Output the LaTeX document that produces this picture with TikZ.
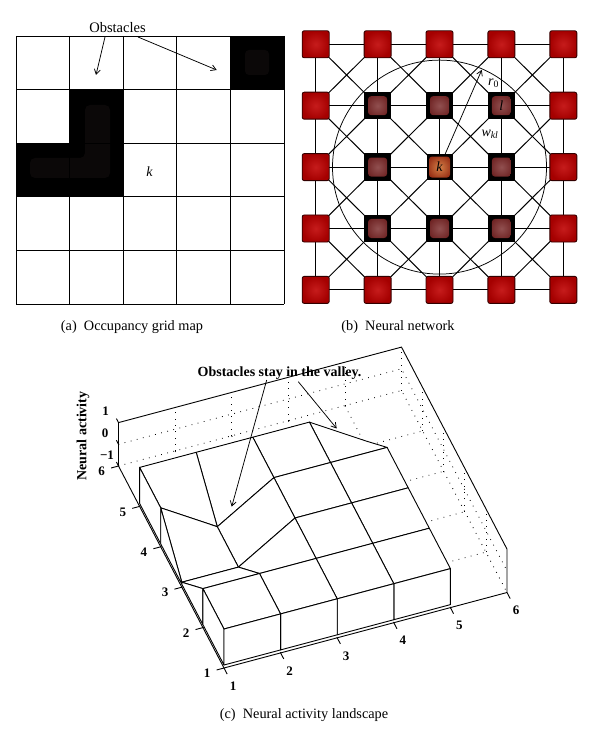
\documentclass[tikz,border=0pt]{standalone}
\usepackage{fontspec}
\setmainfont{Liberation Serif}
\usetikzlibrary{arrows.meta}
\pgfdeclarelayer{bg}
\pgfsetlayers{bg,main}
\begin{document}
\begin{tikzpicture}[x=1pt,y=-1pt,
  declare function={zv(\a,\b)=(((\a==5)&&(\b==5))||((\a==2)&&(\b==4))||((\a==1)&&(\b==3))||((\a==2)&&(\b==3)))?-0.77:0.797;},
  grd/.style={line width=0.9pt},
  obsin/.style={fill={rgb,255:red,11;green,8;blue,8}},
  arr/.style={line width=0.75pt,-{Straight Barb[length=5pt,width=6pt]}},
  capt/.style={font=\fontsize{14.3}{16}\selectfont, anchor=base, inner sep=0pt},
  lbl/.style={font=\fontsize{14.5}{16}\selectfont, inner sep=0pt},
  ital/.style={font=\fontsize{14}{16}\selectfont\itshape, inner sep=0pt},
  bfl/.style={font=\fontsize{14}{16}\selectfont\bfseries, inner sep=0pt},
  tickf/.style={font=\fontsize{13}{13}\selectfont\bfseries, inner sep=0pt},
  onode/.style={rectangle, minimum size=27pt, inner sep=0pt, rounded corners=2pt,
    draw={rgb,255:red,50;green,0;blue,0}, line width=0.9pt,
    inner color={rgb,255:red,198;green,28;blue,28}, outer color={rgb,255:red,165;green,0;blue,0}},
  inode/.style={rectangle, minimum size=27.5pt, inner sep=0pt, fill=black,
    path picture={\shade[inner color={rgb,255:red,145;green,80;blue,80}, outer color={rgb,255:red,105;green,28;blue,28}, rounded corners=3pt]
      ([shift={(-9.5pt,-9.5pt)}]path picture bounding box.center) rectangle ([shift={(9.5pt,9.5pt)}]path picture bounding box.center);}},
  knode/.style={rectangle, minimum size=26pt, inner sep=0pt, fill=black,
    path picture={\shade[inner color={rgb,255:red,212;green,128;blue,72}, outer color={rgb,255:red,150;green,45;blue,20}, rounded corners=3pt]
      ([shift={(-10.5pt,-10.5pt)}]path picture bounding box.center) rectangle ([shift={(10.5pt,10.5pt)}]path picture bounding box.center);}},
  netl/.style={line width=1pt},
  surf/.style={fill=white, draw=black, line width=0.9pt, line join=round},
  axl/.style={line width=0.9pt},
  dotg/.style={line width=0.8pt, dash pattern=on 0.8pt off 5.5pt}
]
\useasboundingbox (0,0) rectangle (595,735);

% ---------------- (a) occupancy grid map ----------------
\fill (230,36) rectangle (284,90);
\fill (69.3,90) rectangle (123.3,143.3);
\fill (16,143.3) rectangle (123.3,197.3);
\fill[obsin, rounded corners=4pt] (245,50) rectangle (269,75);
\fill[obsin, rounded corners=5pt] (85,105) -- (110,105) -- (110,178) -- (30,178) -- (30,158) -- (85,158) -- cycle;
\foreach \k in {0,...,5}{
  \draw[grd] ({16+53.6*\k},36) -- ({16+53.6*\k},304);
  \draw[grd] (16,{36+53.6*\k}) -- (284,{36+53.6*\k});
}
\node[lbl, anchor=base] (obst) at (117.5,33) {Obstacles};
\coordinate (oa1s) at (105,37);
\coordinate (oa1e) at (96,75);
\coordinate (oa2s) at (138,37);
\coordinate (oa2e) at (216.7,70);
\draw[arr] (oa1s) -- (oa1e);
\draw[arr] (oa2s) -- (oa2e);
\node[ital] (ka) at (149.5,172) {k};
\node[capt] (capa) at (132,330) {(a)\enspace Occupancy grid map};

% ---------------- (b) neural network ----------------
\foreach \i in {0,...,4}{
  \foreach \j in {0,...,4}{
    \pgfmathtruncatemacro\isinr{(\i>0)&&(\i<4)&&(\j>0)&&(\j<4)}
    \pgfmathtruncatemacro\iscen{(\i==2)&&(\j==2)}
    \ifnum\iscen=1
      \node[knode] (n\i\j) at ({315.7+61.9*\i},{44.3+61.4*\j}) {};
    \else\ifnum\isinr=1
      \node[inode] (n\i\j) at ({315.7+61.9*\i},{44.3+61.4*\j}) {};
    \else
      \node[onode] (n\i\j) at ({315.7+61.9*\i},{44.3+61.4*\j}) {};
    \fi\fi
  }
}
\begin{pgfonlayer}{bg}
\foreach \i in {0,...,4}{
  \foreach \j in {0,...,3}{
    \pgfmathtruncatemacro\jp{\j+1}
    \draw[netl] (n\i\j.center) -- (n\i\jp.center);
    \draw[netl] (n\j\i.center) -- (n\jp\i.center);
  }
}
\foreach \i in {0,...,3}{
  \foreach \j in {0,...,3}{
    \pgfmathtruncatemacro\ip{\i+1}
    \pgfmathtruncatemacro\jp{\j+1}
    \draw[netl] (n\i\j.center) -- (n\ip\jp.center);
    \draw[netl] (n\ip\j.center) -- (n\i\jp.center);
  }
}
\end{pgfonlayer}
\draw[line width=0.75pt] (n22.center) circle[radius=107];
\coordinate (r0end) at ([shift={(-66.5:106)}]n22.center);
\draw[arr] (n22) -- (r0end);
\node[ital] (kb) at (n22.center) {k};
\node[ital] (lb) at (n31.center) {l};
\node[ital] (r0) at (493.5,83) {r\textsubscript{\upshape 0}};
\node[ital] (wkl) at (490,134) {w\textsubscript{kl}};
\node[capt] (capb) at (398,330) {(b)\enspace Neural network};

% ---------------- (c) neural activity landscape ----------------
\begin{scope}[shift={(188.5,701.8)}, x={(56.6pt,15.1pt)}, y={(-21.1pt,40.4pt)}, z={(0pt,21.7pt)}]
  % dotted grid on back walls and floor
  \foreach \zz in {-1,0}{ \draw[dotg] (1,6,\zz) -- (6,6,\zz) -- (6,1,\zz); }
  \foreach \k in {2,...,6}{ \draw[dotg] (\k,6,-1) -- (\k,6,1); }
  \foreach \k in {2,...,5}{ \draw[dotg] (6,\k,-1) -- (6,\k,1); }
  \foreach \k in {2,...,5}{
    \draw[dotg] (\k,1,-1) -- (\k,6,-1);
    \draw[dotg] (1,\k,-1) -- (6,\k,-1);
  }
  % back box lines
  \draw[axl] (1,6,-1) -- (1,6,1) -- (6,6,1) -- (6,1,1) -- (6,1,-1);
  % surface (painter's order)
  \foreach \j in {4,3,2,1}{
    \foreach \i in {4,3,2,1}{
      \pgfmathtruncatemacro\ip{\i+1}
      \pgfmathtruncatemacro\jp{\j+1}
      \filldraw[surf] (\i,\j,{zv(\i,\j)}) -- (\ip,\j,{zv(\ip,\j)}) -- (\ip,\jp,{zv(\ip,\jp)}) -- (\i,\jp,{zv(\i,\jp)}) -- cycle;
    }
  }
  % curtains
  \foreach \j in {4,3,2,1}{
    \pgfmathtruncatemacro\jp{\j+1}
    \filldraw[surf] (1,\j,-0.862) -- (1,\j,{zv(1,\j)}) -- (1,\jp,{zv(1,\jp)}) -- (1,\jp,-0.862) -- cycle;
  }
  \foreach \i in {4,3,2,1}{
    \pgfmathtruncatemacro\ip{\i+1}
    \filldraw[surf] (\i,1,-0.862) -- (\i,1,{zv(\i,1)}) -- (\ip,1,{zv(\ip,1)}) -- (\ip,1,-0.862) -- cycle;
  }
  % front axes and ticks
  \draw[axl] (1,6,-1) -- (1,1,-1) -- (6,1,-1);
  \foreach \k in {1,...,6}{
    \draw[axl] (\k,1,-1) -- (\k,0.85,-1);
    \draw[axl] (1,\k,-1) -- (0.87,\k,-1);
  }
  \foreach \zz in {-1,0,1}{ \draw[axl] (1,6,\zz) -- (1,6.1,\zz); }
\end{scope}
% tick labels
\foreach \k in {1,...,6}{
  \node[tickf] (xl\k) at ({233+56.6*(\k-1)},{686-15.1*(\k-1)}) {\k};
  \node[tickf] (yl\k) at ({207.2-21.1*(\k-1)},{673.5-40.4*(\k-1)}) {\k};
}
\node[tickf] (zl1) at (105.5,411.5) {1};
\node[tickf] (zl0) at (105,433) {0};
\node[tickf] (zlm) at (107,455) {−1};
\node[bfl, rotate=90] (zlab) at (83,436) {Neural activity};
\node[bfl, anchor=base] (valley) at (279.5,376) {Obstacles stay in the valley.};
\coordinate (va1s) at (266.7,380);
\coordinate (va1e) at (231.7,506.7);
\coordinate (va2s) at (298.3,381.7);
\coordinate (va2e) at (336.7,428.5);
\draw[arr] (va1s) -- (va1e);
\draw[arr] (va2s) -- (va2e);
\node[capt] (capc) at (304,718) {(c)\enspace Neural activity landscape};
\end{tikzpicture}
\end{document}
